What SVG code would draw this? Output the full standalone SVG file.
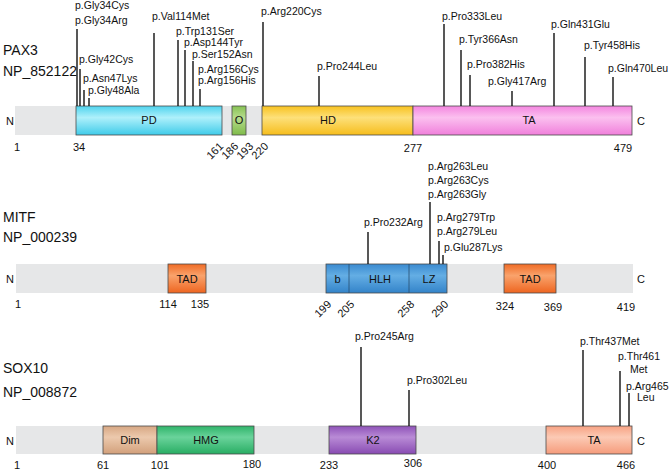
<svg xmlns="http://www.w3.org/2000/svg" width="669" height="470" viewBox="0 0 669 470">
<defs>
<linearGradient id="gPD" x1="0" y1="0" x2="0" y2="1"><stop offset="0" stop-color="#4fd3ee"/><stop offset="0.4" stop-color="#aef0fb"/><stop offset="1" stop-color="#3fcbe9"/></linearGradient>
<linearGradient id="gO" x1="0" y1="0" x2="0" y2="1"><stop offset="0" stop-color="#86c153"/><stop offset="0.4" stop-color="#b6dc8c"/><stop offset="1" stop-color="#7fbb4a"/></linearGradient>
<linearGradient id="gHD" x1="0" y1="0" x2="0" y2="1"><stop offset="0" stop-color="#f8c21f"/><stop offset="0.4" stop-color="#fde07a"/><stop offset="1" stop-color="#f6bd1c"/></linearGradient>
<linearGradient id="gTA" x1="0" y1="0" x2="0" y2="1"><stop offset="0" stop-color="#f486e0"/><stop offset="0.4" stop-color="#fbc0ef"/><stop offset="1" stop-color="#f07fdb"/></linearGradient>
<linearGradient id="gTAD" x1="0" y1="0" x2="0" y2="1"><stop offset="0" stop-color="#f06b25"/><stop offset="0.4" stop-color="#f9a36c"/><stop offset="1" stop-color="#ee6520"/></linearGradient>
<linearGradient id="gB" x1="0" y1="0" x2="0" y2="1"><stop offset="0" stop-color="#3a8ad0"/><stop offset="0.4" stop-color="#64aee4"/><stop offset="1" stop-color="#3383c9"/></linearGradient>
<linearGradient id="gDim" x1="0" y1="0" x2="0" y2="1"><stop offset="0" stop-color="#d7a783"/><stop offset="0.4" stop-color="#ecc9ad"/><stop offset="1" stop-color="#d2a07b"/></linearGradient>
<linearGradient id="gHMG" x1="0" y1="0" x2="0" y2="1"><stop offset="0" stop-color="#2fb46a"/><stop offset="0.4" stop-color="#6ad39b"/><stop offset="1" stop-color="#28ad63"/></linearGradient>
<linearGradient id="gK2" x1="0" y1="0" x2="0" y2="1"><stop offset="0" stop-color="#8e52b8"/><stop offset="0.4" stop-color="#b98bd6"/><stop offset="1" stop-color="#884bb2"/></linearGradient>
<linearGradient id="gTA2" x1="0" y1="0" x2="0" y2="1"><stop offset="0" stop-color="#f7a283"/><stop offset="0.4" stop-color="#fccab5"/><stop offset="1" stop-color="#f59b7b"/></linearGradient>
</defs>
<style>
text{font-family:"Liberation Sans",Arial,sans-serif;fill:#111}
.t{font-size:14px}
.m{font-size:10.5px}
.n{font-size:11px}
.d{font-size:11px;text-anchor:middle}
.c{text-anchor:middle}
.bar{fill:#e6e7e8}
.box{stroke:#4a4a4a;stroke-width:0.8}
.ln{stroke:#111;stroke-width:1.4}
</style>

<!-- PAX3 -->
<g id="pax3">
<text class="t" x="3" y="55">PAX3</text>
<text class="t" x="3" y="76">NP_852122</text>
<rect class="bar" x="15" y="106" width="617" height="29"/>
<text class="n" x="6" y="125">N</text>
<text class="n" x="637" y="125">C</text>
<g id="pax3-PD"><rect class="box" x="76" y="106" width="146" height="29" fill="url(#gPD)"/><text class="d" x="149" y="124">PD</text></g>
<g id="pax3-O"><rect class="box" x="232" y="106" width="14" height="29" fill="url(#gO)"/><text class="d" x="239" y="124">O</text></g>
<g id="pax3-HD"><rect class="box" x="262" y="106" width="151" height="29" fill="url(#gHD)"/><text class="d" x="328" y="124">HD</text></g>
<g id="pax3-TA"><rect class="box" x="413" y="106" width="219" height="29" fill="url(#gTA)"/><text class="d" x="529" y="124">TA</text></g>
<text class="n c" x="17" y="151">1</text>
<text class="n c" x="79" y="151">34</text>
<text class="n c" x="413" y="152">277</text>
<text class="n c" x="623" y="152">479</text>
<text class="n" text-anchor="end" transform="translate(224,147) rotate(-45)">161</text>
<text class="n" text-anchor="end" transform="translate(239,147) rotate(-45)">186</text>
<text class="n" text-anchor="end" transform="translate(254,147) rotate(-45)">193</text>
<text class="n" text-anchor="end" transform="translate(269,147) rotate(-45)">220</text>
<text class="m" x="75" y="9">p.Gly34Cys</text>
<text class="m" x="75" y="24">p.Gly34Arg</text>
<text class="m" x="79" y="63">p.Gly42Cys</text>
<text class="m" x="83" y="82">p.Asn47Lys</text>
<text class="m" x="88" y="94">p.Gly48Ala</text>
<text class="m" x="152" y="20">p.Val114Met</text>
<text class="m" x="176" y="35">p.Trp131Ser</text>
<text class="m" x="184" y="46">p.Asp144Tyr</text>
<text class="m" x="192" y="57.5">p.Ser152Asn</text>
<text class="m" x="198" y="73">p.Arg156Cys</text>
<text class="m" x="198" y="84">p.Arg156His</text>
<text class="m" x="261" y="15">p.Arg220Cys</text>
<text class="m" x="317" y="70">p.Pro244Leu</text>
<text class="m" x="442" y="20">p.Pro333Leu</text>
<text class="m" x="459" y="43">p.Tyr366Asn</text>
<text class="m" x="467" y="68">p.Pro382His</text>
<text class="m" x="488" y="85">p.Gly417Arg</text>
<text class="m" x="551" y="28">p.Gln431Glu</text>
<text class="m" x="584" y="49">p.Tyr458His</text>
<text class="m" x="608" y="72">p.Gln470Leu</text>
</g>

<!-- MITF -->
<g id="mitf">
<text class="t" x="3" y="222">MITF</text>
<text class="t" x="3" y="242">NP_000239</text>
<rect class="bar" x="16" y="264" width="617" height="29"/>
<text class="n" x="6" y="283">N</text>
<text class="n" x="637" y="283">C</text>
<g id="mitf-TAD1"><rect class="box" x="168" y="264" width="38" height="29" fill="url(#gTAD)"/><text class="d" x="187" y="283">TAD</text></g>
<g id="mitf-bHLHLZ"><rect class="box" x="326" y="264" width="121" height="29" fill="url(#gB)"/>
<line x1="349" y1="264" x2="349" y2="293" stroke="#2a4f70" stroke-width="0.8"/>
<line x1="409" y1="264" x2="409" y2="293" stroke="#2a4f70" stroke-width="0.8"/>
<text class="d" x="337.5" y="283">b</text><text class="d" x="380" y="283">HLH</text><text class="d" x="429" y="283">LZ</text></g>
<g id="mitf-TAD2"><rect class="box" x="504" y="264" width="52" height="29" fill="url(#gTAD)"/><text class="d" x="530" y="283">TAD</text></g>
<text class="n c" x="18" y="308">1</text>
<text class="n c" x="168" y="308">114</text>
<text class="n c" x="200" y="308">135</text>
<text class="n c" x="505" y="310">324</text>
<text class="n c" x="553" y="311">369</text>
<text class="n c" x="626" y="311">419</text>
<text class="n" text-anchor="end" transform="translate(332,305) rotate(-45)">199</text>
<text class="n" text-anchor="end" transform="translate(355,305) rotate(-45)">205</text>
<text class="n" text-anchor="end" transform="translate(415,305) rotate(-45)">258</text>
<text class="n" text-anchor="end" transform="translate(449,305) rotate(-45)">290</text>
<text class="m" x="364" y="226">p.Pro232Arg</text>
<text class="m" x="428" y="170">p.Arg263Leu</text>
<text class="m" x="428" y="184">p.Arg263Cys</text>
<text class="m" x="428" y="198">p.Arg263Gly</text>
<text class="m" x="437" y="221">p.Arg279Trp</text>
<text class="m" x="437" y="235">p.Arg279Leu</text>
<text class="m" x="444" y="251">p.Glu287Lys</text>
</g>

<!-- SOX10 -->
<g id="sox10">
<text class="t" x="3" y="373">SOX10</text>
<text class="t" x="3" y="397">NP_008872</text>
<rect class="bar" x="16" y="426" width="616" height="28"/>
<text class="n" x="6" y="445">N</text>
<text class="n" x="637" y="445">C</text>
<g id="sox10-Dim"><rect class="box" x="103" y="426" width="54" height="28" fill="url(#gDim)"/><text class="d" x="130" y="444">Dim</text></g>
<g id="sox10-HMG"><rect class="box" x="157" y="426" width="97" height="28" fill="url(#gHMG)"/><text class="d" x="206" y="444">HMG</text></g>
<g id="sox10-K2"><rect class="box" x="329" y="426" width="87" height="28" fill="url(#gK2)"/><text class="d" x="373" y="444">K2</text></g>
<g id="sox10-TA"><rect class="box" x="546" y="426" width="86" height="28" fill="url(#gTA2)"/><text class="d" x="594" y="444">TA</text></g>
<text class="n c" x="17" y="469">1</text>
<text class="n c" x="103" y="469">61</text>
<text class="n c" x="160" y="469">101</text>
<text class="n c" x="252" y="468">180</text>
<text class="n c" x="329" y="469">233</text>
<text class="n c" x="413" y="467">306</text>
<text class="n c" x="547" y="469">400</text>
<text class="n c" x="626" y="469">466</text>
<text class="m" x="355" y="340">p.Pro245Arg</text>
<text class="m" x="407" y="384">p.Pro302Leu</text>
<text class="m" x="580" y="345">p.Thr437Met</text>
<text class="m" x="618" y="360">p.Thr461</text>
<text class="m" x="630" y="373">Met</text>
<text class="m" x="626" y="390">p.Arg465</text>
<text class="m" x="637" y="401">Leu</text>
</g>

<!-- connectors (mutation stems) -->
<g id="connectors">
<line class="ln" x1="77" y1="29" x2="77" y2="106"/>
<line class="ln" x1="80" y1="69" x2="80" y2="106"/>
<line class="ln" x1="84" y1="90" x2="84" y2="106"/>
<line class="ln" x1="89" y1="98" x2="89" y2="106"/>
<line class="ln" x1="154" y1="33" x2="154" y2="106"/>
<line class="ln" x1="178" y1="40" x2="178" y2="106"/>
<line class="ln" x1="185" y1="50" x2="185" y2="106"/>
<line class="ln" x1="193" y1="61" x2="193" y2="106"/>
<line class="ln" x1="200" y1="89" x2="200" y2="106"/>
<line class="ln" x1="263" y1="22" x2="263" y2="106"/>
<line class="ln" x1="319" y1="76" x2="319" y2="106"/>
<line class="ln" x1="444" y1="24" x2="444" y2="106"/>
<line class="ln" x1="461" y1="50" x2="461" y2="106"/>
<line class="ln" x1="470" y1="75" x2="470" y2="106"/>
<line class="ln" x1="512" y1="91" x2="512" y2="106"/>
<line class="ln" x1="554" y1="33" x2="554" y2="106"/>
<line class="ln" x1="585" y1="57" x2="585" y2="106"/>
<line class="ln" x1="613" y1="77" x2="613" y2="106"/>
<line class="ln" x1="368" y1="232" x2="368" y2="264"/>
<line class="ln" x1="430" y1="202" x2="430" y2="264"/>
<line class="ln" x1="439" y1="241" x2="439" y2="264"/>
<line class="ln" x1="443" y1="255" x2="443" y2="264"/>
<line class="ln" x1="361" y1="347" x2="361" y2="426"/>
<line class="ln" x1="409" y1="390" x2="409" y2="426"/>
<line class="ln" x1="583" y1="350" x2="583" y2="426"/>
<line class="ln" x1="620" y1="371" x2="620" y2="426"/>
<line class="ln" x1="629" y1="393" x2="629" y2="426"/>
</g>
</svg>
